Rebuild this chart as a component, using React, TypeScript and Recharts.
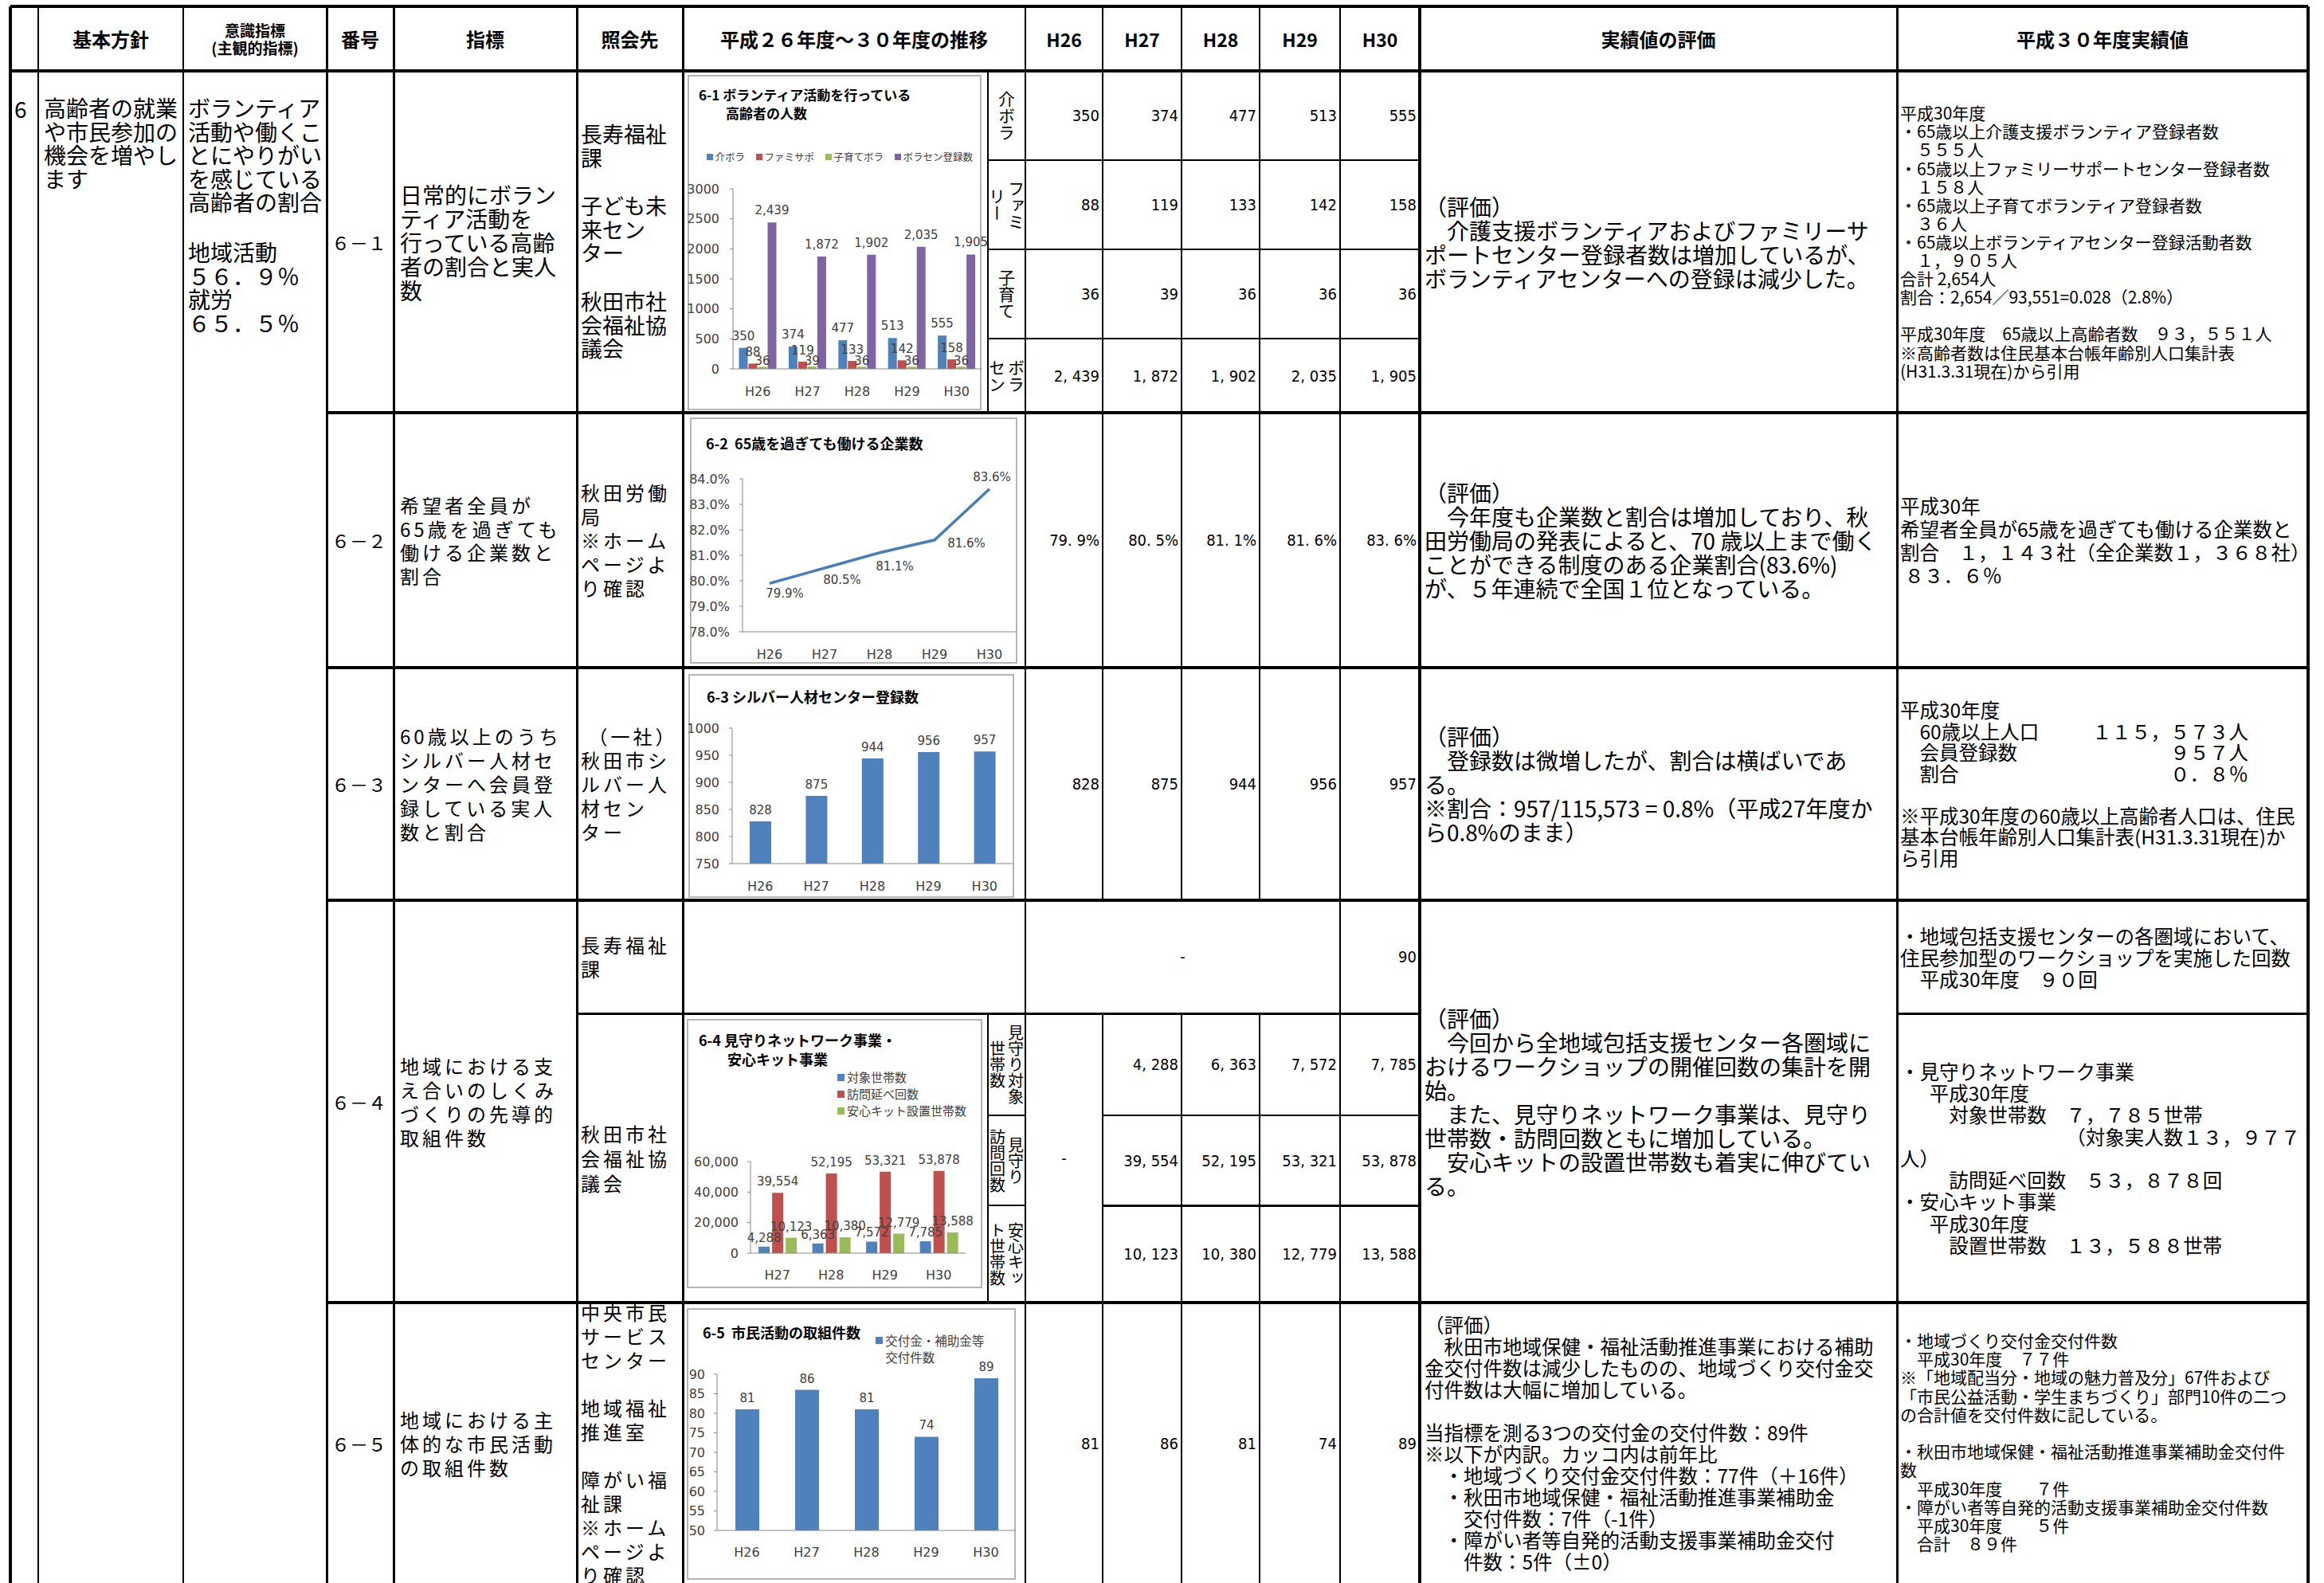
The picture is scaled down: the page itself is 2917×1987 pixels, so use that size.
import React from "react";
import { BarChart, Bar, LineChart, Line, XAxis, YAxis, LabelList, Legend } from "recharts";

// ---- data ----
const YEARS = ["H26", "H27", "H28", "H29", "H30"];
const KAIBORA = [350, 374, 477, 513, 555];
const FAMISAPO = [88, 119, 133, 142, 158];
const KOSODATE = [36, 39, 36, 36, 36];
const BORASEN = [2439, 1872, 1902, 2035, 1905];
const KIGYO_RATE = [79.9, 80.5, 81.1, 81.6, 83.6];
const SILVER = [828, 875, 944, 956, 957];
const MIMAMORI_YEARS = ["H27", "H28", "H29", "H30"];
const TAISHO = [4288, 6363, 7572, 7785];
const HOMON = [39554, 52195, 53321, 53878];
const ANSHIN = [10123, 10380, 12779, 13588];
const WORKSHOP_H30 = 90;
const SHIMIN = [81, 86, 81, 74, 89];

const NAMES_61 = ["介ボラ", "ファミサポ", "子育てボラ", "ボラセン登録数"];
const NAMES_64 = ["対象世帯数", "訪問延べ回数", "安心キット設置世帯数"];
const NAMES_65 = ["交付金・補助金等\n交付件数"];

const TICKS_61 = [0, 500, 1000, 1500, 2000, 2500, 3000];
const TICKS_62 = [78, 79, 80, 81, 82, 83, 84];
const TICKS_63 = [750, 800, 850, 900, 950, 1000];
const TICKS_64 = [0, 20000, 40000, 60000];
const TICKS_65 = [50, 55, 60, 65, 70, 75, 80, 85, 90];

// label offsets for the line chart (px), Excel put them by hand
const RATE_LABEL_OFFSET = [[19, 13], [22, 15], [19, 17], [40, 4], [3, -15]];

const JP = "'Noto Sans CJK JP', 'Noto Sans', sans-serif";
const CF = "'DejaVu Sans', sans-serif";
const NARROW = "'Liberation Sans Narrow', 'DejaVu Sans Condensed', 'Noto Sans CJK JP', sans-serif";
const BLUE = "#4f81bd";
const RED = "#c0504d";
const GREEN = "#9bbb59";
const PURPLE = "#8064a2";
const AX = "#868686";

const fmtComma = (v: any) => Number(v).toLocaleString("en-US");
const fmtCell = (v: number) => v.toLocaleString("en-US").replace(",", ", ");

const tickStyle = { fill: "#404040", fontSize: 16, fontFamily: CF };
const labelProps = { fill: "#404040", fontSize: 15, fontFamily: CF };

function HL({ x1, x2, y, w = 2 }: any) {
  return <div style={{ position: "absolute", left: x1, top: y - w / 2, width: x2 - x1, height: w, background: "#000" }} />;
}
function VL({ x, y1, y2, w = 2 }: any) {
  return <div style={{ position: "absolute", left: x - w / 2, top: y1, width: w, height: y2 - y1, background: "#000" }} />;
}

function Txt({ x, y, w, h, lines, size = 28, lh = 30, ls = 0, align = "left", valign = "middle", weight = 400, family = JP, pr = 0 }: any) {
  return (
    <div
      style={{
        position: "absolute", left: x, top: y, width: w, height: h, display: "flex", flexDirection: "column",
        justifyContent: valign === "top" ? "flex-start" : "center",
        alignItems: align === "left" ? "flex-start" : align === "right" ? "flex-end" : "center",
        paddingRight: pr, boxSizing: "border-box", fontFamily: family, fontSize: size, lineHeight: `${lh}px`,
        letterSpacing: ls, fontWeight: weight, whiteSpace: "pre", textAlign: align,
      }}
    >
      {lines.map((l: string, i: number) => (
        <div key={i} style={{ height: lh }}>{l || "\u00a0"}</div>
      ))}
    </div>
  );
}

function VTxt({ x, y, w, h, text, size = 21 }: any) {
  return (
    <div style={{ position: "absolute", left: x, top: y, width: w, height: h, display: "flex", alignItems: "center", justifyContent: "center" }}>
      <div style={{ writingMode: "vertical-rl", height: h - 8, textAlign: "center", whiteSpace: "pre", fontSize: size, lineHeight: `${size + 3}px`, fontFamily: JP }}>
        {text}
      </div>
    </div>
  );
}

function Num({ x1, x2, y1, y2, text, center = false }: any) {
  return <Txt x={x1} y={y1} w={x2 - x1} h={y2 - y1} lines={[text]} size={20} lh={24} family={NARROW} align={center ? "center" : "right"} pr={center ? 0 : 4} />;
}

function Box({ x1, y1, x2, y2 }: any) {
  return <div style={{ position: "absolute", left: x1, top: y1, width: x2 - x1, height: y2 - y1, border: "2px solid #b4b4b4", boxSizing: "border-box", background: "#fff" }} />;
}

// legend in the series order (recharts sorts by name otherwise)
const legendContent = (dir: "row" | "column", gap: number, fontSize: number, order: string[]) => (props: any) => {
  const items = [...(props.payload || [])].sort((a: any, b: any) => order.indexOf(a.value) - order.indexOf(b.value));
  return (
    <div style={{ display: "flex", flexDirection: dir, gap, fontFamily: JP, fontSize, color: "#404040", lineHeight: `${fontSize + 5}px` }}>
      {items.map((e: any) => (
        <div key={e.value} style={{ display: "flex", alignItems: "flex-start", whiteSpace: "pre" }}>
          <span style={{ width: fontSize * 0.6, height: fontSize * 0.6, background: e.color, marginRight: 3, marginTop: (fontSize + 5 - fontSize * 0.6) / 2, flex: "none" }} />
          {e.value}
        </div>
      ))}
    </div>
  );
};

const HX = [1287, 1384, 1483, 1581, 1682, 1782];

function Chart61() {
  const data = YEARS.map((y, i) => ({ year: y, a: KAIBORA[i], b: FAMISAPO[i], c: KOSODATE[i], d: BORASEN[i] }));
  return (
    <div style={{ position: "absolute", left: 863, top: 94 }}>
      <BarChart width={389} height={421} data={data} margin={{ top: 143, right: 20, bottom: 22, left: 0 }} barCategoryGap="12%" barGap={1}>
        <XAxis dataKey="year" height={30} tickLine={false} tickMargin={17} interval={0} axisLine={{ stroke: AX }} tick={tickStyle} />
        <YAxis width={57} domain={[0, 3000]} ticks={TICKS_61} interval={0} tickSize={4} tickMargin={13} tickLine={{ stroke: AX }} axisLine={{ stroke: AX }} tick={tickStyle} />
        <Legend verticalAlign="middle" align="center" content={legendContent("row", 14, 12.5, NAMES_61)} wrapperStyle={{ left: 24, top: 94, width: 345 }} />
        <Bar dataKey="a" name={NAMES_61[0]} fill={BLUE} isAnimationActive={false}>
          <LabelList dataKey="a" position="top" offset={10} formatter={fmtComma} {...labelProps} />
        </Bar>
        <Bar dataKey="b" name={NAMES_61[1]} fill={RED} isAnimationActive={false}>
          <LabelList dataKey="b" position="top" offset={9} formatter={fmtComma} {...labelProps} />
        </Bar>
        <Bar dataKey="c" name={NAMES_61[2]} fill={GREEN} isAnimationActive={false}>
          <LabelList dataKey="c" position="top" offset={2} formatter={fmtComma} {...labelProps} />
        </Bar>
        <Bar dataKey="d" name={NAMES_61[3]} fill={PURPLE} isAnimationActive={false}>
          <LabelList dataKey="d" position="top" offset={10} formatter={fmtComma} {...labelProps} />
        </Bar>
      </BarChart>
    </div>
  );
}

function RateLabel(props: any) {
  const { x, y, value, index } = props;
  const [dx, dy] = RATE_LABEL_OFFSET[index] || [0, -12];
  return (
    <text x={x + dx} y={y + dy} textAnchor="middle" dominantBaseline="central" fill="#404040" fontSize={15} fontFamily={CF}>
      {Number(value).toFixed(1)}%
    </text>
  );
}

function Chart62() {
  const data = YEARS.map((y, i) => ({ year: y, rate: KIGYO_RATE[i] }));
  return (
    <div style={{ position: "absolute", left: 866, top: 524 }}>
      <LineChart width={411} height={309} data={data} margin={{ top: 77, right: 1, bottom: 10, left: 0 }}>
        <XAxis dataKey="year" height={30} padding={{ left: 34, right: 34 }} tickLine={false} tickMargin={17} interval={0} axisLine={{ stroke: AX }} tick={tickStyle} />
        <YAxis width={66} domain={[78, 84]} ticks={TICKS_62} interval={0} tickFormatter={(v: number) => `${v.toFixed(1)}%`} tickSize={4} tickMargin={12} tickLine={{ stroke: AX }} axisLine={{ stroke: AX }} tick={tickStyle} />
        <Line dataKey="rate" stroke="#4a7ebb" strokeWidth={3.5} dot={false} isAnimationActive={false}>
          <LabelList dataKey="rate" content={RateLabel} />
        </Line>
      </LineChart>
    </div>
  );
}

function Chart63() {
  const data = YEARS.map((y, i) => ({ year: y, n: SILVER[i] }));
  return (
    <div style={{ position: "absolute", left: 858, top: 846 }}>
      <BarChart width={415} height={281} data={data} margin={{ top: 68, right: 2, bottom: 13, left: 0 }}>
        <XAxis dataKey="year" height={30} tickLine={false} tickMargin={17} interval={0} axisLine={{ stroke: AX }} tick={tickStyle} />
        <YAxis width={61} domain={[750, 1000]} ticks={TICKS_63} interval={0} tickSize={4} tickMargin={12} tickLine={{ stroke: AX }} axisLine={{ stroke: AX }} tick={tickStyle} />
        <Bar dataKey="n" fill={BLUE} barSize={27} isAnimationActive={false}>
          <LabelList dataKey="n" position="top" offset={9} {...labelProps} />
        </Bar>
      </BarChart>
    </div>
  );
}

function Chart64() {
  const data = MIMAMORI_YEARS.map((y, i) => ({ year: y, a: TAISHO[i], b: HOMON[i], c: ANSHIN[i] }));
  return (
    <div style={{ position: "absolute", left: 862, top: 1279 }}>
      <BarChart width={371} height={338} data={data} margin={{ top: 179, right: 21, bottom: 14, left: 0 }} barCategoryGap="15%" barGap={3}>
        <XAxis dataKey="year" height={30} tickLine={false} tickMargin={16} interval={0} axisLine={{ stroke: AX }} tick={tickStyle} />
        <YAxis width={80} domain={[0, 60000]} ticks={TICKS_64} interval={0} tickFormatter={fmtComma} tickSize={4} tickMargin={11} tickLine={{ stroke: AX }} axisLine={{ stroke: AX }} tick={tickStyle} />
        <Legend verticalAlign="middle" align="center" content={legendContent("column", 1, 15, NAMES_64)} wrapperStyle={{ left: 189, top: 63, width: 180 }} />
        <Bar dataKey="a" name={NAMES_64[0]} fill={BLUE} isAnimationActive={false}>
          <LabelList dataKey="a" position="top" offset={6} formatter={fmtComma} {...labelProps} />
        </Bar>
        <Bar dataKey="b" name={NAMES_64[1]} fill={RED} isAnimationActive={false}>
          <LabelList dataKey="b" position="top" offset={9} formatter={fmtComma} {...labelProps} />
        </Bar>
        <Bar dataKey="c" name={NAMES_64[2]} fill={GREEN} isAnimationActive={false}>
          <LabelList dataKey="c" position="top" offset={9} formatter={fmtComma} {...labelProps} />
        </Bar>
      </BarChart>
    </div>
  );
}

function Chart65() {
  const data = YEARS.map((y, i) => ({ year: y, n: SHIMIN[i] }));
  return (
    <div style={{ position: "absolute", left: 862, top: 1642 }}>
      <BarChart width={413} height={341} data={data} margin={{ top: 83, right: 0, bottom: 32, left: 0 }}>
        <XAxis dataKey="year" height={30} tickLine={false} tickMargin={16} interval={0} axisLine={{ stroke: AX }} tick={tickStyle} />
        <YAxis width={38} domain={[50, 90]} ticks={TICKS_65} interval={0} tickSize={4} tickMargin={11} tickLine={{ stroke: AX }} axisLine={{ stroke: AX }} tick={tickStyle} />
        <Legend verticalAlign="middle" align="center" content={legendContent("column", 0, 15.5, NAMES_65)} wrapperStyle={{ left: 237, top: 30, width: 175 }} />
        <Bar dataKey="n" name={NAMES_65[0]} fill={BLUE} barSize={30} isAnimationActive={false}>
          <LabelList dataKey="n" position="top" offset={9} {...labelProps} />
        </Bar>
      </BarChart>
    </div>
  );
}

export default function App() {
  const rows61 = [[89, 201], [201, 313], [313, 425], [425, 518]];
  const vals61 = [KAIBORA, FAMISAPO, KOSODATE, BORASEN];
  const rows64 = [[1272, 1400], [1400, 1513], [1513, 1635]];
  const vals64 = [TAISHO, HOMON, ANSHIN];
  const vlines = [
    { x: 13, w: 4 }, { x: 48, w: 2 }, { x: 230, w: 2 }, { x: 410, w: 3 }, { x: 494, w: 3 }, { x: 724, w: 3 },
    { x: 857, w: 3 }, { x: 1287, w: 2 }, { x: 1682, w: 2 }, { x: 1782, w: 4 }, { x: 2381, w: 3 }, { x: 2897, w: 4 },
  ];
  const kekka63 = [
    ["　60歳以上人口", "１１５，５７３人"],
    ["　会員登録数", "９５７人"],
    ["　割合", "０．８％"],
  ];

  return (
    <div style={{ position: "absolute", left: 0, top: 0, width: 2917, height: 1987, background: "#fff", overflow: "hidden", color: "#000", fontFamily: JP }}>
      {/* chart frames */}
      <Box x1={863} y1={94} x2={1232} y2={515} />
      <Box x1={866} y1={524} x2={1277} y2={833} />
      <Box x1={864} y1={846} x2={1273} y2={1127} />
      <Box x1={862} y1={1279} x2={1233} y2={1617} />
      <Box x1={862} y1={1642} x2={1275} y2={1983} />

      {/* grid */}
      <HL x1={13} x2={2897} y={8} w={4} />
      <HL x1={13} x2={2897} y={89} w={4} />
      {[518, 838, 1130, 1635].map((y) => <HL key={y} x1={410} x2={2897} y={y} w={4} />)}
      {[201, 313, 425].map((y) => <HL key={y} x1={1240} x2={1782} y={y} w={2} />)}
      <HL x1={724} x2={1782} y={1272} w={3} />
      <HL x1={2381} x2={2897} y={1272} w={3} />
      {[1400, 1513].map((y) => (
        <React.Fragment key={y}>
          <HL x1={1240} x2={1287} y={y} w={2} />
          <HL x1={1384} x2={1782} y={y} w={y === 1513 ? 3 : 2} />
        </React.Fragment>
      ))}
      {vlines.map((v) => <VL key={v.x} x={v.x} y1={8} y2={1987} w={v.w} />)}
      {[1384, 1483, 1581].map((x) => (
        <React.Fragment key={x}>
          <VL x={x} y1={8} y2={1130} />
          <VL x={x} y1={1272} y2={1987} />
        </React.Fragment>
      ))}
      <VL x={1240} y1={89} y2={518} />
      <VL x={1240} y1={1272} y2={1635} />

      {/* header */}
      <Txt x={48} y={8} w={182} h={81} lines={["基本方針"]} size={24} align="center" weight={700} />
      <Txt x={230} y={8} w={180} h={81} lines={["意識指標", "(主観的指標)"]} size={19} lh={22} align="center" weight={700} />
      <Txt x={410} y={8} w={84} h={81} lines={["番号"]} size={24} align="center" weight={700} />
      <Txt x={494} y={8} w={230} h={81} lines={["指標"]} size={24} align="center" weight={700} />
      <Txt x={724} y={8} w={133} h={81} lines={["照会先"]} size={24} align="center" weight={700} />
      <Txt x={857} y={8} w={430} h={81} lines={["平成２６年度～３０年度の推移"]} size={24} align="center" weight={700} />
      {YEARS.map((y, i) => (
        <Txt key={y} x={HX[i]} y={8} w={HX[i + 1] - HX[i]} h={81} lines={[y]} size={23} align="center" weight={700} />
      ))}
      <Txt x={1782} y={8} w={599} h={81} lines={["実績値の評価"]} size={24} align="center" weight={700} />
      <Txt x={2381} y={8} w={516} h={81} lines={["平成３０年度実績値"]} size={24} align="center" weight={700} />

      {/* left merged columns */}
      <Txt x={18} y={121} w={30} h={30} lines={["6"]} size={28} lh={30} valign="top" />
      <Txt x={55} y={121} w={175} h={130} lines={["高齢者の就業", "や市民参加の", "機会を増やし", "ます"]} size={28} lh={29.5} valign="top" />
      <Txt x={236} y={121} w={174} h={150} lines={["ボランティア", "活動や働くこ", "とにやりがい", "を感じている", "高齢者の割合"]} size={28} lh={29.5} valign="top" />
      <Txt x={236} y={302} w={174} h={120} lines={["地域活動", "５６．９％", "就労", "６５．５％"]} size={28} lh={29.5} valign="top" />

      {/* 番号 */}
      {[["６－１", 89, 518], ["６－２", 518, 838], ["６－３", 838, 1130], ["６－４", 1130, 1635], ["６－５", 1635, 1989]].map(([t, a, b]: any) => (
        <Txt key={t} x={416} y={a} w={78} h={b - a} lines={[t]} size={23} ls={0} />
      ))}

      {/* 指標 */}
      <Txt x={502} y={89} w={222} h={429} lines={["日常的にボラン", "ティア活動を", "行っている高齢", "者の割合と実人", "数"]} size={28} lh={30} />
      <Txt x={502} y={518} w={222} h={320} lines={["希望者全員が", "65歳を過ぎても", "働ける企業数と", "割合"]} size={24} ls={4} lh={29.5} />
      <Txt x={502} y={838} w={222} h={292} lines={["60歳以上のうち", "シルバー人材セ", "ンターへ会員登", "録している実人", "数と割合"]} size={24} ls={4} lh={30} />
      <Txt x={502} y={1130} w={222} h={505} lines={["地域における支", "え合いのしくみ", "づくりの先導的", "取組件数"]} size={24} ls={4} lh={30} />
      <Txt x={502} y={1635} w={222} h={354} lines={["地域における主", "体的な市民活動", "の取組件数"]} size={24} ls={4} lh={30} />

      {/* 照会先 */}
      <Txt x={729} y={153} w={128} h={60} lines={["長寿福祉", "課"]} size={27} lh={29.5} valign="top" />
      <Txt x={729} y={243} w={128} h={90} lines={["子ども未", "来セン", "ター"]} size={27} lh={29.5} valign="top" />
      <Txt x={729} y={363} w={128} h={90} lines={["秋田市社", "会福祉協", "議会"]} size={27} lh={29.5} valign="top" />
      <Txt x={729} y={518} w={128} h={320} lines={["秋田労働", "局", "※ホーム", "ページよ", "り確認"]} size={24} ls={4} lh={30} />
      <Txt x={729} y={838} w={128} h={292} lines={[" （一社）", "秋田市シ", "ルバー人", "材セン", "ター"]} size={24} ls={4} lh={30} />
      <Txt x={729} y={1130} w={128} h={142} lines={["長寿福祉", "課"]} size={24} ls={4} lh={30} />
      <Txt x={729} y={1272} w={128} h={363} lines={["秋田市社", "会福祉協", "議会"]} size={24} ls={4} lh={31} />
      <Txt x={729} y={1632} w={128} h={360} valign="top" lines={["中央市民", "サービス", "センター", "", "地域福祉", "推進室", "", "障がい福", "祉課", "※ホーム", "ページよ", "り確認"]} size={24} ls={4} lh={30} />

      {/* chart titles */}
      <Txt x={877} y={107} w={350} h={50} valign="top" lines={["6-1 ボランティア活動を行っている", "　　高齢者の人数"]} size={17} lh={23} weight={700} />
      <Txt x={886} y={544} w={380} h={26} valign="top" lines={["6-2  65歳を過ぎても働ける企業数"]} size={18} lh={24} weight={700} />
      <Txt x={887} y={862} w={380} h={26} valign="top" lines={["6-3 シルバー人材センター登録数"]} size={18} lh={24} weight={700} />
      <Txt x={877} y={1293} w={350} h={50} valign="top" lines={["6-4 見守りネットワーク事業・", "　　安心キット事業"]} size={18} lh={24} weight={700} />
      <Txt x={882} y={1660} w={230} h={26} valign="top" lines={["6-5  市民活動の取組件数"]} size={18} lh={24} weight={700} />

      <Chart61 />
      <Chart62 />
      <Chart63 />
      <Chart64 />
      <Chart65 />

      {/* vertical sub labels */}
      {["介ボラ", "ファミ\nリー", "子育て", "ボラ\nセン"].map((t, i) => (
        <VTxt key={t} x={1240} y={rows61[i][0]} w={47} h={rows61[i][1] - rows61[i][0]} text={t} size={21} />
      ))}
      {["見守り対象\n世帯数", "見守り\n訪問回数", "安心キッ\nト世帯数"].map((t, i) => (
        <VTxt key={t} x={1240} y={rows64[i][0]} w={47} h={rows64[i][1] - rows64[i][0]} text={t} size={20} />
      ))}

      {/* numbers */}
      {rows61.map(([a, b], r) =>
        vals61[r].map((v, i) => <Num key={`61-${r}-${i}`} x1={HX[i]} x2={HX[i + 1]} y1={a} y2={b} text={fmtCell(v)} />)
      )}
      {KIGYO_RATE.map((v, i) => (
        <Num key={`62-${i}`} x1={HX[i]} x2={HX[i + 1]} y1={518} y2={838} text={`${v.toFixed(1).replace(".", ". ")}%`} />
      ))}
      {SILVER.map((v, i) => <Num key={`63-${i}`} x1={HX[i]} x2={HX[i + 1]} y1={838} y2={1130} text={fmtCell(v)} />)}
      <Num x1={1287} x2={1682} y1={1130} y2={1272} text="-" center />
      <Num x1={1682} x2={1782} y1={1130} y2={1272} text={String(WORKSHOP_H30)} />
      <Num x1={1287} x2={1384} y1={1272} y2={1635} text="-" center />
      {rows64.map(([a, b], r) =>
        vals64[r].map((v, i) => <Num key={`64-${r}-${i}`} x1={HX[i + 1]} x2={HX[i + 2]} y1={a} y2={b} text={fmtCell(v)} />)
      )}
      {SHIMIN.map((v, i) => <Num key={`65-${i}`} x1={HX[i]} x2={HX[i + 1]} y1={1635} y2={1989} text={String(v)} />)}

      {/* 実績値の評価 */}
      <Txt x={1788} y={89} w={593} h={429} lines={["（評価）", "　介護支援ボランティアおよびファミリーサ", "ポートセンター登録者数は増加しているが、", "ボランティアセンターへの登録は減少した。"]} size={28} lh={30} />
      <Txt x={1788} y={518} w={593} h={320} lines={["（評価）", "　今年度も企業数と割合は増加しており、秋", "田労働局の発表によると、70 歳以上まで働く", "ことができる制度のある企業割合(83.6%)", "が、５年連続で全国１位となっている。"]} size={28} lh={30} />
      <Txt x={1788} y={838} w={593} h={292} lines={["（評価）", "　登録数は微増したが、割合は横ばいであ", "る。", "※割合：957/115,573 = 0.8%（平成27年度か", "ら0.8%のまま）"]} size={28} lh={30} />
      <Txt x={1788} y={1130} w={593} h={505} lines={["（評価）", "　今回から全地域包括支援センター各圏域に", "おけるワークショップの開催回数の集計を開", "始。", "　また、見守りネットワーク事業は、見守り", "世帯数・訪問回数ともに増加している。", "　安心キットの設置世帯数も着実に伸びてい", "る。"]} size={28} lh={30} />
      <Txt x={1788} y={1649} w={593} h={340} valign="top" lines={["（評価）", "　秋田市地域保健・福祉活動推進事業における補助", "金交付件数は減少したものの、地域づくり交付金交", "付件数は大幅に増加している。", "", "当指標を測る3つの交付金の交付件数：89件", "※以下が内訳。カッコ内は前年比", "　・地域づくり交付金交付件数：77件（＋16件）", "　・秋田市地域保健・福祉活動推進事業補助金", "　　交付件数：7件（-1件）", "　・障がい者等自発的活動支援事業補助金交付", "　　件数：5件（±0）"]} size={24.5} lh={27} />

      {/* 平成３０年度実績値 */}
      <Txt x={2385} y={89} w={512} h={429} lines={["平成30年度", "・65歳以上介護支援ボランティア登録者数", "　５５５人", "・65歳以上ファミリーサポートセンター登録者数", "　１５８人", "・65歳以上子育てボランティア登録者数", "　３６人", "・65歳以上ボランティアセンター登録活動者数", "　１，９０５人", "合計 2,654人", "割合：2,654／93,551=0.028（2.8%）", "", "平成30年度　65歳以上高齢者数　９３，５５１人", "※高齢者数は住民基本台帳年齢別人口集計表", "(H31.3.31現在)から引用"]} size={21} lh={23.1} />
      <Txt x={2385} y={518} w={512} h={320} lines={["平成30年", "希望者全員が65歳を過ぎても働ける企業数と", "割合　１，１４３社（全企業数１，３６８社）", " ８３．６％"]} size={24.5} lh={29} />
      <Txt x={2385} y={878} w={512} h={30} valign="top" lines={["平成30年度"]} size={24.5} lh={26.5} />
      {kekka63.map(([a, b], i) => (
        <div key={a} style={{ position: "absolute", left: 2385, top: 878 + 26.5 * (i + 1), width: 437, height: 26.5, display: "flex", justifyContent: "space-between", fontSize: 24.5, lineHeight: "26.5px", whiteSpace: "pre", fontFamily: JP }}>
          <span>{a}</span>
          <span>{b}</span>
        </div>
      ))}
      <Txt x={2385} y={878 + 26.5 * 5} w={512} h={80} valign="top" lines={["※平成30年度の60歳以上高齢者人口は、住民", "基本台帳年齢別人口集計表(H31.3.31現在)か", "ら引用"]} size={24.5} lh={26.5} />
      <Txt x={2385} y={1130} w={512} h={142} lines={["・地域包括支援センターの各圏域において、", "住民参加型のワークショップを実施した回数", "　平成30年度　９０回"]} size={24.5} lh={27} />
      <Txt x={2385} y={1272} w={512} h={363} lines={["・見守りネットワーク事業", "\u3000\u2002平成30年度", "\u3000\u3000\u2002対象世帯数　７，７８５世帯", "\u3000\u3000\u3000\u3000\u3000\u3000\u3000\u3000\u3000（対象実人数１３，９７７", "人）", "\u3000\u3000\u2002訪問延べ回数　５３，８７８回", "・安心キット事業", "\u3000\u2002平成30年度", "\u3000\u3000\u2002設置世帯数　１３，５８８世帯"]} size={24.5} lh={27.3} />
      <Txt x={2385} y={1671} w={512} h={300} valign="top" lines={["・地域づくり交付金交付件数", "　平成30年度　７７件", "※「地域配当分・地域の魅力普及分」67件および", "「市民公益活動・学生まちづくり」部門10件の二つ", "の合計値を交付件数に記している。", "", "・秋田市地域保健・福祉活動推進事業補助金交付件", "数", "　平成30年度　　７件", "・障がい者等自発的活動支援事業補助金交付件数", "　平成30年度　　５件", "　合計　８９件"]} size={21} lh={23.2} />
    </div>
  );
}
